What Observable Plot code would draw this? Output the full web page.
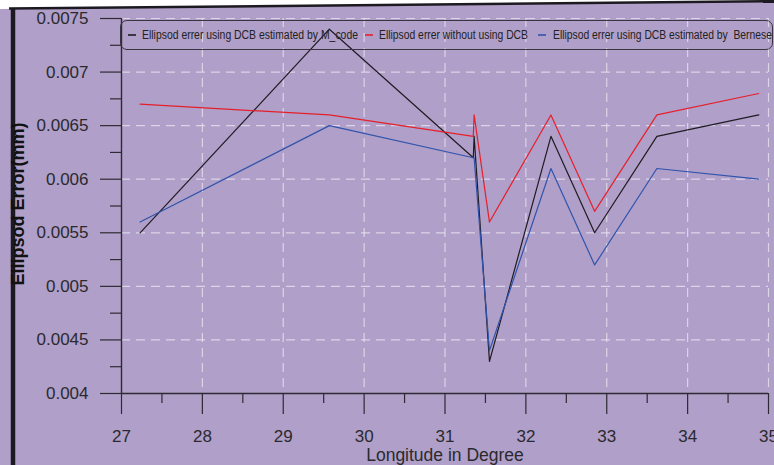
<!DOCTYPE html>
<html>
<head>
<meta charset="utf-8">
<script src="https://cdn.jsdelivr.net/npm/d3@7"></script>
<script src="https://cdn.jsdelivr.net/npm/@observablehq/plot@0.6"></script>
<style>
  html, body { margin: 0; padding: 0; background: #ffffff; }
  #wrap { position: relative; width: 774px; height: 465px; overflow: hidden; background: #b09fc8; }
  #deco { position: absolute; left: 0; top: 0; }
  #chart { position: absolute; left: 0; top: 0; }
  #legend { position: absolute; left: 120px; top: 20px; width: 653px; height: 30px; box-sizing: border-box;
            border: 1px solid #3a3440; border-radius: 7px; font-family: "Liberation Sans", Arial, sans-serif;
            font-size: 12.5px; color: #222; }
  #legend svg.dash { position: absolute; top: 10px; width: 9px; height: 8px; overflow: visible; }
  #legend .txt { position: absolute; top: 7px; white-space: pre; display: inline-block; transform-origin: 0 50%; line-height: 14px; }
</style>
</head>
<body>
<div id="wrap">
  <svg id="deco" width="774" height="465">
    <polygon points="0,0 774,0 774,1 0,9" fill="#ffffff"/>
    <line x1="9" y1="8.5" x2="774" y2="1.2" stroke="#1c1a20" stroke-width="2.5"/>
    <line x1="13" y1="8" x2="13" y2="465" stroke="#1c1a20" stroke-width="4.5"/>
  </svg>
  <div id="chart"></div>
  <div id="legend"></div>
</div>
<script>
// ---- data ----
const longitude = [27.23, 29.57, 31.35, 31.36, 31.55, 32.31, 32.85, 33.62, 34.88];
const errMcode   = [0.0055, 0.0074, 0.0062, 0.0064, 0.0043, 0.0064, 0.0055, 0.0064, 0.0066];
const errNoDcb   = [0.0067, 0.0066, 0.0064, 0.0066, 0.0056, 0.0066, 0.0057, 0.0066, 0.0068];
const errBernese = [0.0056, 0.0065, 0.0062, 0.0062, 0.0044, 0.0061, 0.0052, 0.0061, 0.0060];

const seriesNames = [
  "Ellipsod errer using DCB estimated by M_code",
  "Ellipsod errer without using DCB",
  "Ellipsod errer using DCB estimated by  Bernese"
];
const seriesColors = ["#1e1c22", "#e5202a", "#3054ad"];

const xTicks = [27, 28, 29, 30, 31, 32, 33, 34, 35];
const xTickLabels = ["27", "28", "29", "30", "31", "32", "33", "34", "35"];
const xMinorTicks = [27.5, 28.5, 29.5, 30.5, 31.5, 32.5, 33.5, 34.5];
const yTicks = [0.004, 0.0045, 0.005, 0.0055, 0.006, 0.0065, 0.007, 0.0075];
const yTickLabels = ["0.004", "0.0045", "0.005", "0.0055", "0.006", "0.0065", "0.007", "0.0075"];
const yMinorTicks = [0.00425, 0.00475, 0.00525, 0.00575, 0.00625, 0.00675, 0.00725];
const xTitle = "Longitude in Degree";
const yTitle = "Ellipsod Error(mm)";

// build long table
const seriesValues = [errMcode, errNoDcb, errBernese];
const rows = [];
seriesValues.forEach((vals, s) => vals.forEach((v, i) => rows.push({series: seriesNames[s], x: longitude[i], y: v})));

const gridStyle = {stroke: "#ebe6f2", strokeOpacity: 0.75, strokeWidth: 1.2, strokeDasharray: "9,6"};
const tickColor = "#2e2a33";

const chart = Plot.plot({
  width: 774,
  height: 465,
  marginLeft: 121,
  marginRight: 6,
  marginTop: 18,
  marginBottom: 72,
  style: {background: "transparent", fontFamily: "'Liberation Sans', Arial, sans-serif", color: "#2a2a2e"},
  x: {domain: [27, 35]},
  y: {domain: [0.004, 0.0075]},
  color: {domain: seriesNames, range: seriesColors},
  marks: [
    Plot.gridX(xTicks.slice(1), gridStyle),
    Plot.gridY(yTicks.slice(1), gridStyle),
    Plot.axisX(xMinorTicks, {tickSize: 10, text: null, label: null, stroke: tickColor, strokeWidth: 1.2, strokeOpacity: 1}),
    Plot.axisY(yMinorTicks, {tickSize: 11, text: null, label: null, stroke: tickColor, strokeWidth: 1.2, strokeOpacity: 1}),
    Plot.axisX(xTicks, {tickSize: 21, tickPadding: 15, fontSize: 17, tickFormat: (d, i) => xTickLabels[i], label: null, stroke: tickColor, strokeWidth: 1.2, strokeOpacity: 1}),
    Plot.axisY(yTicks, {tickSize: 21, tickPadding: 12, fontSize: 17, tickFormat: (d, i) => yTickLabels[i], label: null, stroke: tickColor, strokeWidth: 1.2, strokeOpacity: 1}),
    Plot.ruleY([0.004], {stroke: tickColor, strokeWidth: 1.4}),
    Plot.ruleX([27], {stroke: tickColor, strokeWidth: 1.4}),
    Plot.line(rows, {x: "x", y: "y", z: "series", stroke: "series", strokeWidth: 1.2}),
    Plot.text([xTitle], {frameAnchor: "bottom", textAnchor: "middle", dy: 67, fontSize: 17.5, fill: "#2a2a2e", text: d => d}),
    Plot.text([yTitle], {frameAnchor: "left", textAnchor: "middle", dx: -103, dy: -2, rotate: -90, fontSize: 18, fontWeight: "bold", fill: "#111", text: d => d})
  ]
});
document.getElementById("chart").appendChild(chart);

// legend (HTML overlay inside the plot area)
const legend = document.getElementById("legend");
const legendLayout = [
  {dash: 7, text: 21, width: 216},
  {dash: 244, text: 258, width: 149},
  {dash: 417, text: 432, width: 219}
];
const svgNS = "http://www.w3.org/2000/svg";
seriesNames.forEach((name, i) => {
  const s = document.createElementNS(svgNS, "svg");
  s.setAttribute("class", "dash");
  s.setAttribute("width", "9");
  s.setAttribute("height", "8");
  s.style.left = legendLayout[i].dash + "px";
  const ln = document.createElementNS(svgNS, "line");
  ln.setAttribute("x1", "0");
  ln.setAttribute("x2", "8");
  ln.setAttribute("y1", "4");
  ln.setAttribute("y2", "4");
  ln.setAttribute("stroke", seriesColors[i]);
  ln.setAttribute("stroke-width", "1.6");
  s.appendChild(ln);
  legend.appendChild(s);
  const t = document.createElement("span");
  t.className = "txt";
  t.style.left = legendLayout[i].text + "px";
  t.textContent = name;
  legend.appendChild(t);
  const w = t.getBoundingClientRect().width;
  if (w > 0) t.style.transform = `scaleX(${legendLayout[i].width / w})`;
});
</script>
</body>
</html>
